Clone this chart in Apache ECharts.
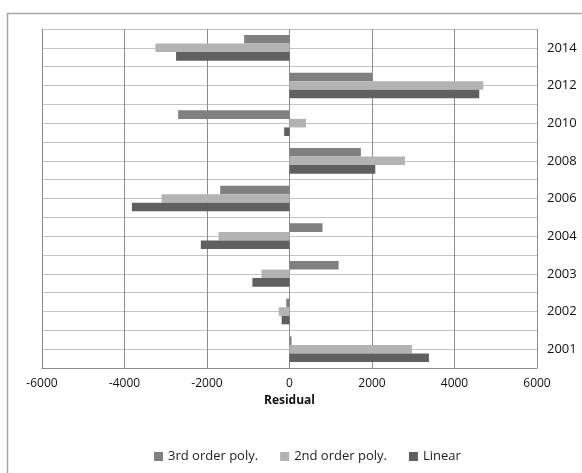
<!DOCTYPE html>
<html><head><meta charset="utf-8">
<script src="https://cdn.jsdelivr.net/npm/echarts@6/dist/echarts.min.js"></script>
<style>html,body{margin:0;padding:0;background:#fff}#c{width:582px;height:473px}</style>
</head><body><div id="c"></div>
<script>
const years = ['2001','2002','2003','2004','2006','2008','2010','2012','2014'];
const poly3 = [50, -80, 1190, 800, -1680, 1730, -2700, 2000, -1100];
const poly2 = [2970, -260, -680, -1720, -3100, 2800, 400, 4700, -3250];
const linear = [3380, -190, -900, -2150, -3820, 2080, -130, 4600, -2750];
const xTicks = [-6000, -4000, -2000, 0, 2000, 4000, 6000];

const font = 'Open Sans, Noto Sans, sans-serif';
const chart = echarts.init(document.getElementById('c'), null, {renderer: 'canvas'});
chart.setOption({
  animation: false,
  backgroundColor: '#fff',
  graphic: [{type: 'rect', shape: {x: 7.5, y: 13.5, width: 600, height: 500}, style: {fill: 'none', stroke: '#a6a6a6', lineWidth: 1.5}, z: -1}],
  grid: {left: 42, top: 29, right: 45, bottom: 105},
  legend: {
    data: ['3rd order poly.', '2nd order poly.', 'Linear'],
    left: 149, top: 445, itemWidth: 9, itemHeight: 9, itemGap: 22,
    textStyle: {fontFamily: font, fontSize: 13, color: '#222'},
    icon: 'rect'
  },
  xAxis: {
    type: 'value', min: xTicks[0], max: xTicks[xTicks.length - 1], interval: 2000,
    name: 'Residual', nameLocation: 'middle', nameGap: 27,
    nameTextStyle: {fontFamily: font, fontSize: 12, fontWeight: 'bold', color: '#111'},
    axisLabel: {fontFamily: font, fontSize: 12, color: '#111', margin: 10, formatter: v => String(v)},
    axisLine: {show: true, lineStyle: {color: '#8c8c8c'}},
    axisTick: {show: false},
    splitLine: {show: true, lineStyle: {color: '#8c8c8c', width: 1}}
  },
  yAxis: [{
    type: 'category', data: years, position: 'right',
    axisLine: {show: false}, axisTick: {show: false},
    axisLabel: {fontFamily: font, fontSize: 13, color: '#111', margin: 10},
    splitLine: {show: false}
  }, {
    type: 'value', min: 0, max: 18, interval: 1, position: 'left',
    axisLabel: {show: false}, axisTick: {show: false},
    axisLine: {show: true, lineStyle: {color: '#8c8c8c'}},
    splitLine: {show: true, lineStyle: {color: '#c4c4c4', width: 1}}
  }],
  series: [
    {name: '3rd order poly.', type: 'bar', data: poly3, yAxisIndex: 0, barGap: '0%', barCategoryGap: '32%', itemStyle: {color: '#808080'}},
    {name: '2nd order poly.', type: 'bar', data: poly2, yAxisIndex: 0, barGap: '0%', barCategoryGap: '32%', itemStyle: {color: '#b3b3b3'}},
    {name: 'Linear', type: 'bar', data: linear, yAxisIndex: 0, barGap: '0%', barCategoryGap: '32%', itemStyle: {color: '#606060'}}
  ]
});
</script></body></html>
